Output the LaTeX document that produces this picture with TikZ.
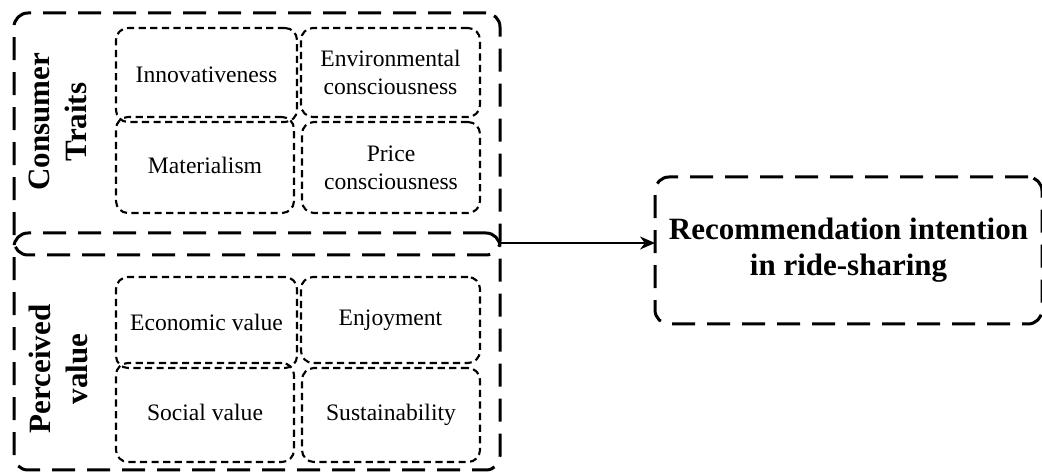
\documentclass[tikz,border=0pt]{standalone}
\usepackage{fontspec}
\setmainfont{Liberation Serif}
\usetikzlibrary{arrows.meta}
\begin{document}
\begin{tikzpicture}[x=0.5pt,y=-0.5pt,
  outerbox/.style={draw, line width=1.5pt, dash pattern=on 11.5pt off 6pt, rounded corners=7pt, inner sep=0pt, outer sep=0pt},
  innerbox/.style={draw, line width=1.05pt, dash pattern=on 3.6pt off 2.2pt, rounded corners=6pt, inner sep=0pt, outer sep=0pt,
    font=\fontsize{11.8}{14}\selectfont, align=center},
  side/.style={font=\fontsize{15.5}{18.5}\selectfont\bfseries, align=center, rotate=90, inner sep=0pt},
  arr/.style={line width=1.1pt, -{Stealth[length=7.5pt,width=6.5pt]}},
  ]
\useasboundingbox (0,0) rectangle (1042,474);

% outer group boxes
\node[outerbox, minimum width=243pt, minimum height=121pt] (ct) at (257,134) {};
\node[outerbox, minimum width=243pt, minimum height=118.5pt] (pv) at (257,351.5) {};

% side labels
\node[side] (ctl) at (58,122) {Consumer\\Traits};
\node[side] (pvl) at (58,369) {Perceived\\value};

% consumer traits inner boxes
\node[innerbox, minimum width=90.5pt, minimum height=47pt] (inn) at (206.5,75) {Innovativeness};
\node[innerbox, minimum width=89.5pt, minimum height=44.5pt] (env) at (390.5,72.5) {Environmental\\consciousness};
\node[innerbox, minimum width=89pt, minimum height=48pt] (mat) at (205,165) {Materialism};
\node[innerbox, minimum width=89pt, minimum height=45.5pt] (pri) at (391,167.5) {Price\\consciousness};

% perceived value inner boxes
\node[innerbox, minimum width=90.5pt, minimum height=45.5pt] (eco) at (206.5,322.5) {Economic value};
\node[innerbox, minimum width=89.5pt, minimum height=43pt] (enj) at (390.5,320) {Enjoyment};
\node[innerbox, minimum width=89pt, minimum height=49.5pt] (soc) at (205,412.5) {Social value};
\node[innerbox, minimum width=89pt, minimum height=47pt] (sus) at (391,415) {Sustainability};

% outcome box
\node[outerbox, minimum width=193.5pt, minimum height=73.5pt, align=center,
      font=\fontsize{15.5}{18}\selectfont\bfseries] (rec) at (848.5,250.5)
      {Recommendation intention\\in ride-sharing};

% connector
\coordinate (junc) at (500,243);
\draw[arr] (junc) -- (rec.west |- junc);
\end{tikzpicture}
\end{document}
